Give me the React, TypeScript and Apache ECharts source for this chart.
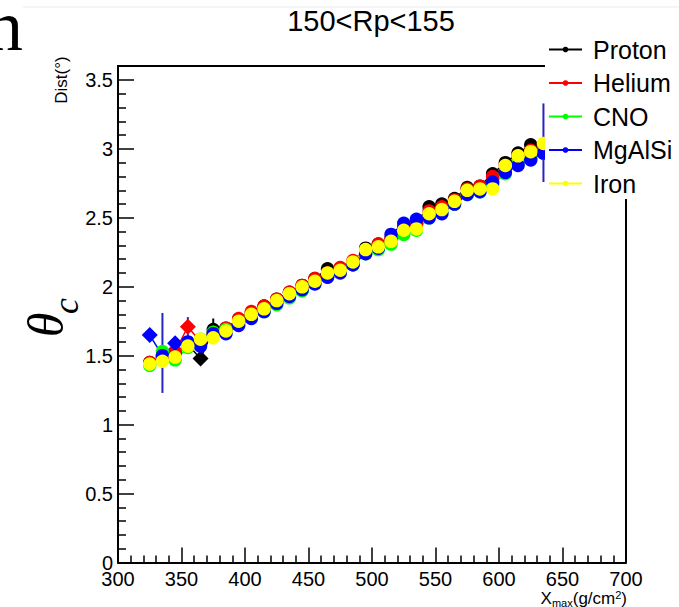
import React, { useEffect, useRef } from "react";
import * as echarts from "echarts";

const xmax = [325, 335, 345, 355, 365, 375, 385, 395, 405, 415, 425, 435, 445, 455, 465, 475, 485, 495, 505, 515, 525, 535, 545, 555, 565, 575, 585, 595, 605, 615, 625, 635];

const proton = [1.45, 1.49, 1.52, 1.58, 1.48, 1.69, 1.70, 1.76, 1.81, 1.86, 1.91, 1.96, 2.01, 2.06, 2.13, 2.13, 2.16, 2.28, 2.31, 2.35, 2.43, 2.47, 2.58, 2.60, 2.64, 2.72, 2.73, 2.82, 2.90, 2.97, 3.03, 3.03];
const helium = [1.45, 1.50, 1.53, 1.71, 1.60, 1.66, 1.70, 1.77, 1.82, 1.86, 1.91, 1.96, 2.01, 2.06, 2.10, 2.14, 2.19, 2.27, 2.31, 2.35, 2.42, 2.45, 2.55, 2.58, 2.63, 2.71, 2.73, 2.80, 2.88, 2.95, 2.99, 3.02];
const cno = [1.43, 1.53, 1.47, 1.56, 1.62, 1.67, 1.69, 1.73, 1.78, 1.82, 1.87, 1.92, 1.97, 2.03, 2.07, 2.11, 2.16, 2.24, 2.27, 2.31, 2.38, 2.41, 2.50, 2.54, 2.60, 2.67, 2.69, 2.74, 2.82, 2.89, 2.93, 2.97];
const mgalsi = [1.65, 1.50, 1.59, 1.60, 1.57, 1.66, 1.66, 1.72, 1.77, 1.82, 1.88, 1.93, 1.98, 2.02, 2.07, 2.10, 2.16, 2.24, 2.28, 2.38, 2.46, 2.49, 2.50, 2.53, 2.60, 2.67, 2.69, 2.76, 2.83, 2.88, 2.92, 2.97];
const iron = [1.44, 1.46, 1.49, 1.57, 1.62, 1.63, 1.68, 1.75, 1.80, 1.84, 1.90, 1.95, 2.00, 2.04, 2.10, 2.12, 2.18, 2.27, 2.29, 2.33, 2.41, 2.42, 2.53, 2.56, 2.62, 2.70, 2.71, 2.71, 2.88, 2.95, 2.98, 3.04];

const seriesNames = ["Proton", "Helium", "CNO", "MgAlSi", "Iron"];
const seriesColors = ["#000000", "#ff0000", "#00ff00", "#0000ff", "#ffff00"];

// error bars
const errX = [335, 355, 375, 635];
const errLow = [1.23, 1.55, 1.62, 2.76];
const errHigh = [1.81, 1.78, 1.77, 3.33];
const errSeries = ["MgAlSi", "MgAlSi", "Proton", "MgAlSi"];

// points drawn as diamonds [series, index]
const diamondSeries = ["MgAlSi", "MgAlSi", "Helium", "Proton"];
const diamondIndex = [0, 2, 3, 4];

const xTicks = { min: 300, max: 700, step: 50 };
const yTicks = { min: 0, max: 3.5, step: 0.5 };

const titleText = "150<Rp<155";

export default function App() {
  const ref = useRef<HTMLDivElement>(null);
  useEffect(() => {
    if (!ref.current) return;
    const chart = echarts.init(ref.current, null, { renderer: "svg" });
    const values = [proton, helium, cno, mgalsi, iron];
    const colorOf = (n: string) => seriesColors[seriesNames.indexOf(n)];
    const lineSeries = seriesNames.map((name, si) => ({
      type: "line",
      name,
      data: xmax.map((x, i) => {
        const d: any = { value: [x, values[si][i]] };
        for (let k = 0; k < diamondSeries.length; k++) {
          if (diamondSeries[k] === name && diamondIndex[k] === i) {
            d.symbol = "diamond";
            d.symbolSize = 16;
          }
        }
        return d;
      }),
      symbol: "circle",
      symbolSize: 13.5,
      showAllSymbol: true,
      color: seriesColors[si],
      itemStyle: { color: seriesColors[si] },
      lineStyle: { color: seriesColors[si], width: 1.5 },
      emphasis: { disabled: true },
      clip: false,
    }));
    const errSer = {
      type: "custom",
      name: "err",
      data: errX.map((x, i) => [x, errLow[i], errHigh[i], i]),
      renderItem: (params: any, api: any) => {
        const x = api.value(0);
        const p1 = api.coord([x, api.value(1)]);
        const p2 = api.coord([x, api.value(2)]);
        const idx = api.value(3);
        const c = errSeries[idx] === "MgAlSi" ? "#2424c0" : colorOf(errSeries[idx]);
        return {
          type: "line",
          shape: { x1: p1[0], y1: p1[1], x2: p2[0], y2: p2[1] },
          style: { stroke: c, lineWidth: 2 },
        };
      },
      clip: false,
      silent: true,
    };
    const series: any[] = [lineSeries[0], lineSeries[1], lineSeries[2], errSer, lineSeries[3], lineSeries[4]];

    const font = "Liberation Sans, Arial, sans-serif";
    chart.setOption({
      animation: false,
      backgroundColor: "#ffffff",
      grid: { left: 118, right: 53, top: 80, bottom: 44.5, show: false },
      xAxis: {
        type: "value",
        min: xTicks.min,
        max: xTicks.max,
        interval: xTicks.step,
        axisLine: { show: true, lineStyle: { color: "#000", width: 2 } },
        axisTick: { show: true, inside: true, length: 15, lineStyle: { color: "#000", width: 1.5 } },
        minorTick: { show: true, splitNumber: 5, length: 7, lineStyle: { color: "#000", width: 1.5 } },
        splitLine: { show: false },
        axisLabel: { color: "#000", fontSize: 20, fontFamily: font, margin: 6 },
      },
      yAxis: {
        type: "value",
        min: yTicks.min,
        max: yTicks.max,
        interval: yTicks.step,
        axisLine: { show: true, lineStyle: { color: "#000", width: 2 } },
        axisTick: { show: true, inside: true, length: 16, lineStyle: { color: "#000", width: 1.5 } },
        minorTick: { show: true, splitNumber: 5, length: 8, lineStyle: { color: "#000", width: 1.5 } },
        splitLine: { show: false },
        axisLabel: { color: "#000", fontSize: 20, fontFamily: font, margin: 5 },
      },
      legend: {
        orient: "vertical",
        left: 545,
        top: 33,
        padding: [4, 20, 3, 3],
        backgroundColor: "#ffffff",
        itemWidth: 33,
        itemHeight: 7,
        itemGap: 8.5,
        data: seriesNames,
        textStyle: { fontSize: 25, fontFamily: font, color: "#000", lineHeight: 25, padding: [0, 0, 0, 6] },
        lineStyle: { width: 2 },
        selectedMode: false,
      },
      graphic: [
        { type: "line", z: 0, shape: { x1: 23, y1: 7, x2: 679, y2: 7 }, style: { stroke: "#ebebeb", lineWidth: 1 } },
        { type: "line", z: 0, shape: { x1: 117, y1: 66, x2: 626, y2: 66 }, style: { stroke: "#000", lineWidth: 2 } },
        { type: "line", z: 0, shape: { x1: 118, y1: 65, x2: 118, y2: 81 }, style: { stroke: "#000", lineWidth: 2 } },
        { type: "line", z: 0, shape: { x1: 626, y1: 65, x2: 626, y2: 563 }, style: { stroke: "#000", lineWidth: 2 } },
        {
          type: "text", z: 0, x: -13, y: 26,
          style: { text: "n", font: "72px 'Liberation Serif', serif", fill: "#000", textAlign: "left", textVerticalAlign: "middle" },
        },
        {
          type: "text", z: 5, x: 371, y: 21,
          style: { text: titleText, font: "29px 'Liberation Sans', Arial, sans-serif", fill: "#000", textAlign: "center", textVerticalAlign: "middle" },
        },
        {
          type: "text", z: 5, x: 61, y: 80, rotation: Math.PI / 2,
          style: { text: "Dist(°)", font: "17px 'Liberation Sans', Arial, sans-serif", fill: "#000", textAlign: "center", textVerticalAlign: "middle" },
        },
        {
          type: "text", z: 5, x: 46, y: 325, rotation: Math.PI / 2,
          style: { text: "θ", font: "italic 50px 'Liberation Serif', serif", fill: "#000", textAlign: "center", textVerticalAlign: "middle" },
        },
        {
          type: "text", z: 5, x: 66, y: 306, rotation: Math.PI / 2,
          style: { text: "c", font: "italic 36px 'Liberation Serif', serif", fill: "#000", textAlign: "center", textVerticalAlign: "middle" },
        },
        {
          type: "text", z: 5, x: 627, y: 598,
          style: {
            text: "{a|X}{b|max}{a|(g/cm}{c|2}{a|)}",
            textAlign: "right",
            textVerticalAlign: "middle",
            rich: {
              a: { fontSize: 17, fontFamily: font, fill: "#000", color: "#000" },
              b: { fontSize: 11, fontFamily: font, fill: "#000", color: "#000", padding: [9, 0, 0, 0] },
              c: { fontSize: 11, fontFamily: font, fill: "#000", color: "#000", padding: [0, 0, 6, 0] },
            },
          },
        },
      ],
      series,
    });
    return () => chart.dispose();
  }, []);
  return <div ref={ref} style={{ position: "fixed", left: 0, top: 0, width: 679, height: 607 }} />;
}
